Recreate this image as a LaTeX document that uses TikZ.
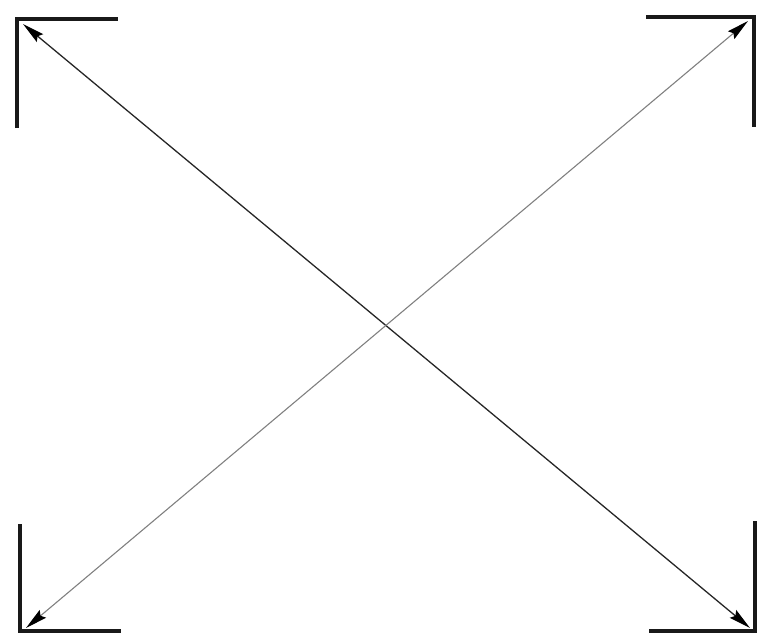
\documentclass[tikz,border=0pt]{standalone}
\usetikzlibrary{arrows.meta}
\begin{document}
\begin{tikzpicture}[x=1pt,y=-1pt,
  bracket/.style={line width=3.5pt,line cap=butt,black!90},
  tip/.style={Stealth[length=22pt,width=10pt,inset=3pt,color=black]},
  diag/.style={line width=1.3pt,{Stealth[length=22pt,width=10pt,inset=3pt,color=black]}-{Stealth[length=22pt,width=10pt,inset=3pt,color=black]}},
]
\useasboundingbox (0,0) rectangle (759,635);
% corner brackets
\draw[bracket] (17,128) -- (17,19) -- (118,19);
\draw[bracket] (646,17) -- (754,17) -- (754,127);
\draw[bracket] (20,524) -- (20,631) -- (121,631);
\draw[bracket] (649,631) -- (755,631) -- (755,521);
% arrow tips
\coordinate (tl) at (23,24);
\coordinate (tr) at (748,21);
\coordinate (bl) at (26,628);
\coordinate (br) at (750,628);
\draw[diag,black!85] (tl) -- (br);
\draw[diag,black!50,line width=1.1pt] (bl) -- (tr);
\end{tikzpicture}
\end{document}
